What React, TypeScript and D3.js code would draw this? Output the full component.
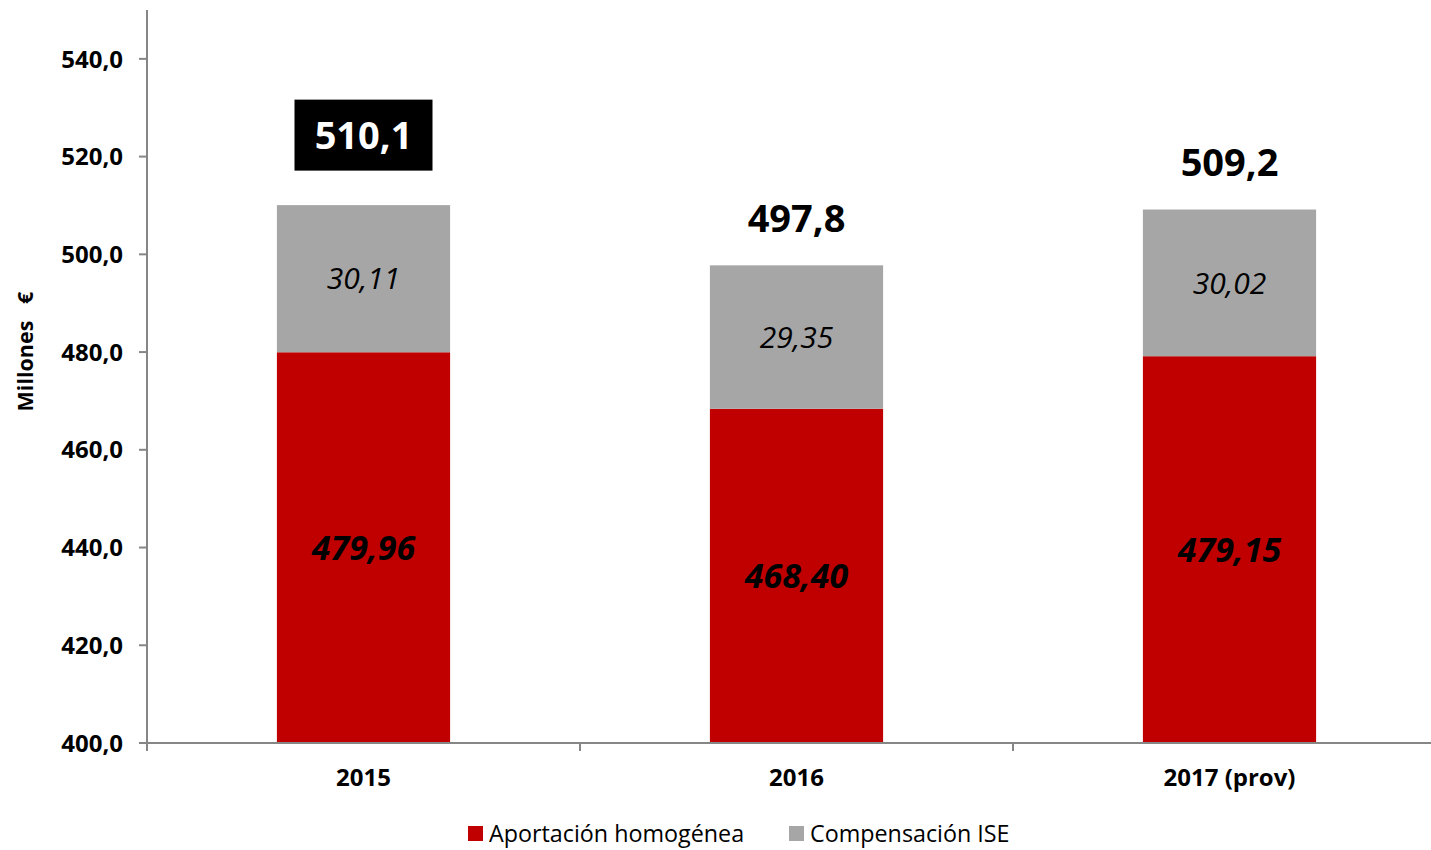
import React from 'react'
import * as d3 from 'd3'

// data
const years = ['2015', '2016', '2017 (prov)']
const aportacion = [479.96, 468.40, 479.15]
const compensacion = [30.11, 29.35, 30.02]
const totals = [510.1, 497.8, 509.2]
const highlighted = [true, false, false]
const yTicks = [400, 420, 440, 460, 480, 500, 520, 540]
const seriesNames = ['Aportación homogénea', 'Compensación ISE']

const RED = '#C00000'
const GREY = '#A6A6A6'
const AXIS = '#868686'
const FONT = '"Open Sans", sans-serif'

const fmt = (v: number, d: number) => v.toFixed(d).replace('.', ',')

const App = () => {
    const width = 1431, height = 850
    const left = 147, right = 1446
    const top = 10, bottom = 743

    const x = d3.scaleBand().domain(years).range([left, right]).paddingInner(0).paddingOuter(0)
    const y = d3.scaleLinear().domain([400, 550]).range([bottom, top])
    const barW = x.bandwidth() * 0.4

    const stack = years.map((yr, i) => ({
        yr,
        a: aportacion[i],
        c: compensacion[i],
        t: totals[i],
        hi: highlighted[i],
    }))

    return (
        <svg width={width} height={height} style={{ position: 'absolute', left: 0, top: 0 }}>
            <rect width={width} height={height} fill="#fff" />

            {/* bars */}
            {stack.map(d => {
                const cx = x(d.yr)! + x.bandwidth() / 2
                const y0 = y(400), y1 = y(d.a), y2 = y(d.a + d.c)
                const ty = d.hi ? y(d.a + d.c) - 70 : y(d.a + d.c) - 47
                return (
                    <g key={d.yr}>
                        <rect x={cx - barW / 2} y={y1} width={barW} height={y0 - y1} fill={RED} />
                        <rect x={cx - barW / 2} y={y2} width={barW} height={y1 - y2} fill={GREY} />
                        <text x={cx} y={(y0 + y1) / 2} dy="0.36em" textAnchor="middle"
                            fontFamily={FONT} fontSize={34} fontWeight="bold" fontStyle="italic" fill="#000">
                            {fmt(d.a, 2)}
                        </text>
                        <text x={cx} y={(y1 + y2) / 2} dy="0.36em" textAnchor="middle"
                            fontFamily={FONT} fontSize={30} fontStyle="italic" fill="#000">
                            {fmt(d.c, 2)}
                        </text>
                        {d.hi && <rect x={cx - 69} y={ty - 35.5} width={138} height={71} fill="#000" />}
                        <text x={cx} y={ty} dy="0.36em" textAnchor="middle"
                            fontFamily={FONT} fontSize={38} fontWeight="bold" fill={d.hi ? '#fff' : '#000'}>
                            {fmt(d.t, 1)}
                        </text>
                    </g>
                )
            })}

            {/* y axis */}
            <line x1={left} x2={left} y1={top} y2={bottom} stroke={AXIS} strokeWidth={2} />
            {yTicks.map(t => (
                <g key={t}>
                    <line x1={left - 8} x2={left} y1={y(t)} y2={y(t)} stroke={AXIS} strokeWidth={2} />
                    <text x={left - 24} y={y(t)} dy="0.36em" textAnchor="end"
                        fontFamily={FONT} fontSize={24} fontWeight="bold" fill="#000">
                        {fmt(t, 1)}
                    </text>
                </g>
            ))}
            <text transform={`translate(33,${(290 + 413) / 2}) rotate(-90)`} textAnchor="middle"
                fontFamily={FONT} fontSize={21.5} fontWeight="bold" fill="#000" style={{ whiteSpace: 'pre' }}>
                {'Millones   €'}
            </text>

            {/* x axis */}
            <line x1={left} x2={width} y1={bottom} y2={bottom} stroke={AXIS} strokeWidth={2} />
            {years.map(yr => (
                <g key={yr}>
                    <line x1={x(yr)!} x2={x(yr)!} y1={bottom} y2={bottom + 8} stroke={AXIS} strokeWidth={2} />
                    <text x={x(yr)! + x.bandwidth() / 2} y={777} dy="0.36em" textAnchor="middle"
                        fontFamily={FONT} fontSize={24} fontWeight="bold" fill="#000">
                        {yr}
                    </text>
                </g>
            ))}

            {/* legend */}
            {seriesNames.map((name, i) => {
                const lx = i === 0 ? 468 : 789
                return (
                    <g key={name}>
                        <rect x={lx} y={826} width={15} height={15} fill={i === 0 ? RED : GREY} />
                        <text x={lx + 21} y={834} dy="0.36em" fontFamily={FONT} fontSize={23.3} fill="#000">
                            {name}
                        </text>
                    </g>
                )
            })}
        </svg>
    )
}

export default App
